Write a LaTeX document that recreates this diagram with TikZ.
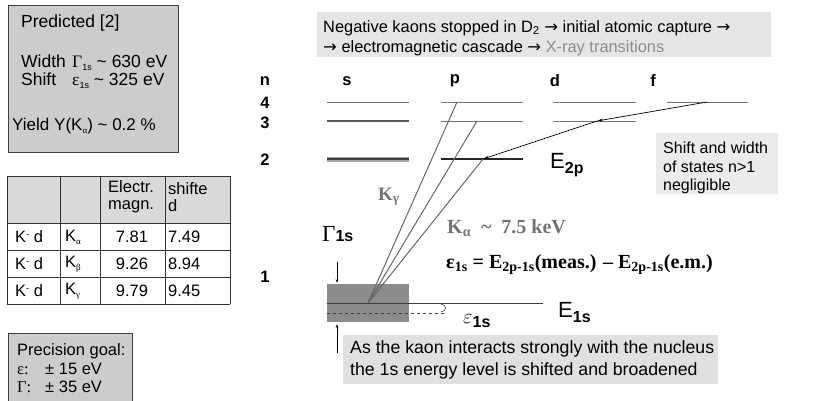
\documentclass[tikz,border=0pt]{standalone}
\usepackage{fontspec}
\setmainfont{Liberation Sans}
\newfontfamily\timesfont{Liberation Serif}
\newfontfamily\arrowfont{DejaVu Sans}
\usetikzlibrary{positioning, arrows.meta}
\newcommand\fsz[1]{\fontsize{#1}{#1}\selectfont}
\newcommand\lowsub[1]{\raisebox{-3pt}{\fsz{9}#1}}
\newcommand\ar{{\arrowfont →}}

\begin{document}
\begin{tikzpicture}[x=1pt, y=-1pt, font=\fsz{16.5},
    greybox/.style={draw=black!75, fill=black!20, line width=0.8pt},
    txt/.style={anchor=west, inner sep=0pt},
    lvl/.style={black!55, line width=0.8pt},
    trans/.style={black!60, line width=1pt},
    casc/.style={black, line width=0.7pt, -{Stealth[length=6pt, width=3pt]}},
    tick/.style={black, line width=0.5pt, -{Stealth[length=4pt, width=2.5pt]}},
    grid/.style={black!80, line width=0.8pt}]
  \useasboundingbox (0,0) rectangle (822,400);

  % left column: prediction box, table, precision goal
  \draw[greybox] (8,5) rectangle (178,152);
  \node[txt, font=\fsz{17.5}] (pred) at (21,23) {Predicted [2]};
  \node[txt, font=\fsz{17.5}] (wid) at (21,63) {\makebox[51pt][l]{Width}{\timesfont Γ}\lowsub{1s} \textasciitilde{} 630 eV};
  \node[txt, font=\fsz{17.5}] (shi) at (21,81) {\makebox[51pt][l]{Shift}{\timesfont ε}\lowsub{1s} \textasciitilde{} 325 eV};
  \node[txt, font=\fsz{17}] (yie) at (12,126) {\makebox[42pt][l]{Yield}Y(K\lowsub{\timesfont α}) \textasciitilde{} 0.2 \%};

  \fill[black!15] (7,176) rectangle (230,223);
  \foreach \yy in {176,223,250,277,304} \draw[grid] (7,\yy) -- (230,\yy);
  \foreach \xx in {7,60,100,165,230} \draw[grid] (\xx,176) -- (\xx,304);
  \node[txt, align=left, font=\fontsize{16.5}{17}\selectfont] (hdem) at (108,197) {Electr.\\magn.};
  \node[txt, align=left, font=\fontsize{16.5}{17}\selectfont] (hdsh) at (168,197) {shifte\\d};
  \foreach \yy/\g/\ev/\sv in {237/α/7.81/7.49, 264/β/9.26/8.94, 291/γ/9.79/9.45} {
    \node[txt] at (15,\yy) {K\raisebox{5pt}{\fsz{9}-} d};
    \node[txt] at (65,\yy) {K\lowsub{\timesfont\g}};
    \node at (132,\yy) {\ev};
    \node[txt] at (168,\yy) {\sv};
  }

  \draw[greybox] (8,333) rectangle (132,402);
  \node[txt] (goal) at (17,351) {Precision goal:};
  \node[txt] (geps) at (17,369) {\makebox[28pt][l]{\timesfont ε:}± 15 eV};
  \node[txt] (ggam) at (17,387) {\makebox[28pt][l]{\timesfont Γ:}± 35 eV};

  % banner
  \fill[black!10] (317,12) rectangle (771,57);
  \node[txt, font=\fsz{16.4}] (ban1) at (323,28) {Negative kaons stopped in D\textsubscript{2} \ar{} initial atomic capture \ar};
  \node[txt, font=\fsz{16.4}] (ban2) at (323,48) {\ar{} electromagnetic cascade \ar{} {\color{black!45}X-ray transitions}};

  % level scheme
  \foreach \xx/\lab in {265/n, 347/s, 455/p, 555/d, 653/f}
    \node[font=\fsz{16.5}\bfseries] at (\xx,81) {\lab};
  \foreach \yy/\lab in {103/4, 123/3, 160/2, 277/1}
    \node[font=\fsz{16.5}\bfseries] at (265,\yy) {\lab};

  \foreach \xa/\xb/\yy in {327/409/102, 441/523/102, 553/636/102, 667/748/102, 441/523/121, 553/636/121}
    \draw[lvl] (\xa,\yy) -- (\xb,\yy);
  \draw[black!65, line width=1.8pt] (327,121) -- (409,121);
  \draw[black!35, line width=5pt] (327,159) -- (409,159);
  \draw[black!75, line width=1.3pt] (327,159) -- (409,159);
  \draw[black!85, line width=1.4pt] (441,159) -- (523,159);

  \coordinate (f4) at (707,102);
  \coordinate (d3) at (597,121);
  \coordinate (p4) at (457,102);
  \coordinate (p3) at (477,121);
  \coordinate (p2) at (483,159);
  \coordinate (g1s) at (368,303);

  \fill[black!45] (327,284) rectangle (409,322);
  \foreach \c in {p4,p3,p2} \draw[trans] (\c) -- (g1s);
  \draw[casc] (f4) -- (d3);
  \draw[casc] (d3) -- (p2);

  \draw[black!75, line width=0.9pt] (327,303) -- (543,303);
  \draw[black!75, line width=0.7pt, dashed] (327,313) -- (445,313);
  \draw[black!75, line width=0.6pt] (441,304) .. controls (447,305) and (447,311) .. (441,312);

  \coordinate (gtop) at (337,262);
  \coordinate (rtop) at (337,283);
  \coordinate (rbot) at (337,324);
  \coordinate (bup) at (337,353);
  \draw[tick] (gtop) -- (rtop);
  \draw[tick] (bup) -- (rbot);

  % labels
  \node[anchor=base west, inner sep=0pt] (gam) at (322,241) {{\timesfont\fsz{23}Γ}{\fsz{16}\bfseries 1s}};
  \node[anchor=base west, inner sep=0pt] (eps) at (463,323) {\fsz{22}$\varepsilon$\raisebox{-4pt}{\fsz{16}\bfseries 1s}};
  \node[anchor=base west, inner sep=0pt] (E2p) at (550,168) {\fsz{22}E\raisebox{-5pt}{\fsz{16}\bfseries 2p}};
  \node[anchor=base west, inner sep=0pt] (E1s) at (558,317) {\fsz{22}E\raisebox{-5pt}{\fsz{16}\bfseries 1s}};
  \node[anchor=base west, inner sep=0pt, text=black!55] (Kg) at (378,200) {\timesfont\bfseries\fsz{19}K\textsubscript{γ}};
  \node[anchor=base west, inner sep=0pt, text=black!55] (Ka) at (447,233) {\timesfont\bfseries\fsz{20}K\textsubscript{α}\hspace{10pt}\textasciitilde\hspace{10pt}7.5 keV};
  \node[anchor=base west, inner sep=0pt] (form) at (446,268) {\timesfont\bfseries\fsz{20}ε\textsubscript{1s} = E\textsubscript{2p-1s}(meas.) – E\textsubscript{2p-1s}(e.m.)};

  % notes
  \fill[black!8] (656,133) rectangle (778,194);
  \node[txt, font=\fsz{16}] (note1) at (663,148) {Shift and width};
  \node[txt, font=\fsz{16}] (note2) at (663,167) {of states n>1};
  \node[txt, font=\fsz{16}] (note3) at (663,186) {negligible};

  \fill[black!12] (343,335) rectangle (718,384);
  \node[txt, font=\fsz{17.7}] (bot1) at (350,349) {As the kaon interacts strongly with the nucleus};
  \node[txt, font=\fsz{17.7}] (bot2) at (350,371) {the 1s energy level is shifted and broadened};
\end{tikzpicture}
\end{document}
